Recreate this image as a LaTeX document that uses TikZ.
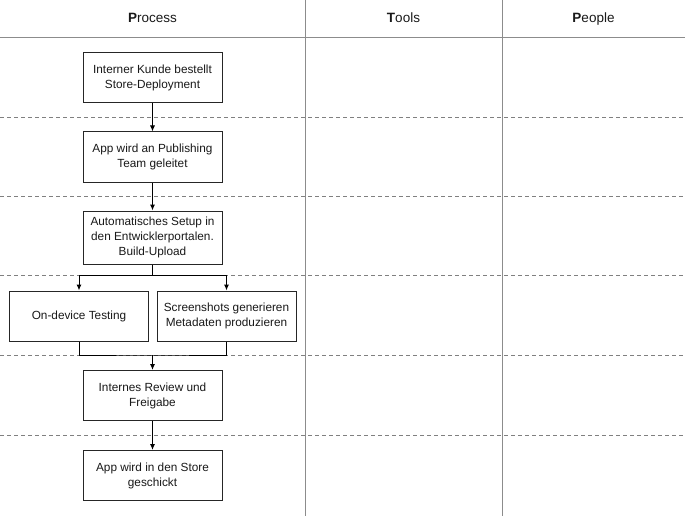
\documentclass[tikz,border=0pt]{standalone}
\usepackage{fontspec}
\setmainfont{Liberation Sans}
\usetikzlibrary{arrows.meta}

\begin{document}
\begin{tikzpicture}[x=1pt,y=-1pt,font=\fontsize{11.8}{15}\selectfont,>={Latex[length=6pt,width=5pt]},
    stepbox/.style={draw=black!85,line width=1pt,fill=white,text=black!90,align=center,minimum width=139pt,minimum height=50pt,inner sep=2pt},
    lanehead/.style={anchor=base,font=\fontsize{13.5}{15}\selectfont,text=black!90},
    lane/.style={black!45,line width=0.9pt},
    band/.style={black!50,dashed,dash pattern=on 4pt off 3pt,line width=0.7pt},
    flow/.style={->,black,line width=1pt}]
  \useasboundingbox (0,0) rectangle (685,516);

  % swimlane frame
  \draw[lane] (0,37) -- (685,37);
  \draw[lane] (305,0) -- (305,516);
  \draw[lane] (502,0) -- (502,516);
  \foreach \y in {117,196,275,355,435}{
    \draw[band] (0,\y) -- (685,\y);
  }

  \node[lanehead] (hprocess) at (152.5,23) {\textbf{P}rocess};
  \node[lanehead] (htools) at (403.5,23) {\textbf{T}ools};
  \node[lanehead] (hpeople) at (593.5,23) {\textbf{P}eople};

  % process steps
  \node[stepbox] (order) at (152.5,77.5) {Interner Kunde bestellt\\Store-Deployment};
  \node[stepbox] (publishing) at (152.5,157) {App wird an Publishing\\Team geleitet};
  \node[stepbox,minimum height=53pt] (setup) at (152.5,237.5) {Automatisches Setup in\\den Entwicklerportalen.\\Build-Upload};
  \node[stepbox] (testing) at (79,316) {On-device Testing};
  \node[stepbox] (screens) at (226.5,316) {Screenshots generieren\\Metadaten produzieren};
  \node[stepbox] (review) at (152.5,395.5) {Internes Review und\\Freigabe};
  \node[stepbox] (store) at (152.5,475.5) {App wird in den Store\\geschickt};

  \coordinate (split) at (152.5,275);
  \coordinate (merge) at (152.5,355);

  \draw[flow] (order) -- (publishing);
  \draw[flow] (publishing) -- (setup);
  \draw[line width=1pt] (setup) -- (split);
  \draw[flow] (split) -| (testing);
  \draw[flow] (split) -| (screens);
  \draw[line width=1pt] (testing.south) |- (merge) -| (screens.south);
  \draw[flow] (merge) -- (review);
  \draw[flow] (review) -- (store);

\end{tikzpicture}
\end{document}
